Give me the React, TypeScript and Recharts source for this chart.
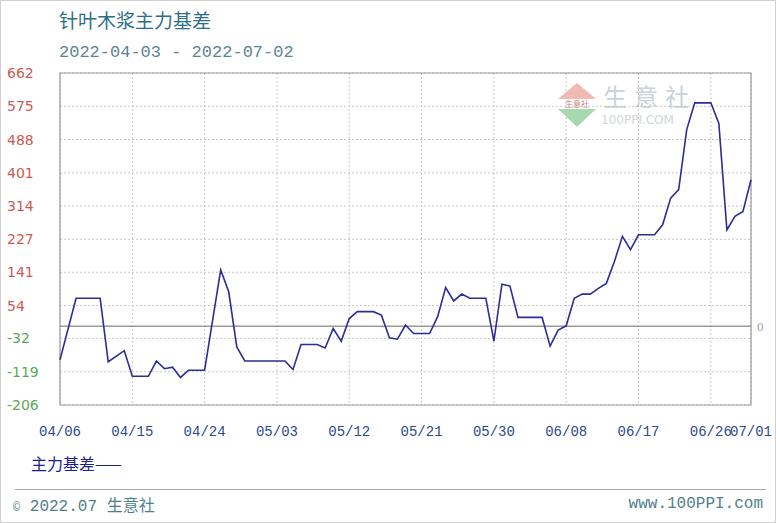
import { CartesianGrid, Line, LineChart, ReferenceArea, ReferenceLine, XAxis, YAxis } from "recharts";

// day offset from 04/06 and the main-contract basis
const days = [
  0, 2, 5, 6, 8, 9, 11, 12, 13, 14, 15, 16, 18, 20, 21, 22, 23, 28, 29, 30, 32, 33, 34, 35, 36, 37, 39, 40, 41,
  42, 43, 44, 46, 47, 48, 49, 50, 51, 53, 54, 55, 56, 57, 60, 61, 62, 63, 64, 65, 66, 67, 68, 69, 70, 71, 72, 74,
  75, 76, 77, 78, 79, 81, 82, 83, 84, 85, 86,
];
const basis = [
  -88, 73, 73, -93, -64, -131, -131, -91, -111, -107, -134, -115, -115, 147, 90, -54, -91, -91, -113, -48, -48, -57,
  -6, -39, 20, 38, 38, 29, -30, -34, 3, -19, -19, 25, 101, 66, 84, 73, 73, -39, 110, 105, 23, 23, -52, -10, 1, 73,
  84, 84, 99, 112, 169, 235, 200, 239, 239, 265, 335, 357, 514, 584, 584, 530, 252, 287, 300, 383,
];

const yTicks = [662, 575, 488, 401, 314, 227, 141, 54, -32, -119, -206];
const xTickDays = [0, 9, 18, 27, 36, 45, 54, 63, 72, 81, 86];
const xTickLabels = ["04/06", "04/15", "04/24", "05/03", "05/12", "05/21", "05/30", "06/08", "06/17", "06/26", "07/01"];

const data = days.map((d, i) => ({ day: d, value: basis[i] }));

const mono = "'Liberation Mono', 'DejaVu Sans Mono', monospace";
const cjk = "'Noto Sans CJK SC', sans-serif";

function YTick({ y, payload }: any) {
  const v = Number(payload.value);
  return (
    <text x={6} y={y} dy={5} fill={v < 0 ? "#5ca85c" : "#cc5a55"} fontSize={14} fontFamily="'DejaVu Sans', sans-serif">
      {v}
    </text>
  );
}

export default function App() {
  return (
    <div
      style={{
        position: "absolute",
        left: 0,
        top: 0,
        width: 776,
        height: 523,
        background: "#fff",
        boxSizing: "border-box",
        border: "1px solid #d0d0d0",
        overflow: "hidden",
      }}
    >
      <div style={{ position: "absolute", left: 58, top: 6, fontSize: 19, color: "#2c6f85", fontFamily: cjk, lineHeight: "26px" }}>
        针叶木浆主力基差
      </div>
      <div style={{ position: "absolute", left: 58, top: 41, fontSize: 17, color: "#5b8593", fontFamily: mono, lineHeight: "22px" }}>
        2022-04-03 - 2022-07-02
      </div>

      {/* watermark logo */}
      <div
        style={{
          position: "absolute",
          left: 557,
          top: 82,
          width: 0,
          height: 0,
          borderLeft: "19px solid transparent",
          borderRight: "19px solid transparent",
          borderBottom: "16px solid #f2b8b4",
        }}
      />
      <div
        style={{
          position: "absolute",
          left: 557,
          top: 108,
          width: 0,
          height: 0,
          borderLeft: "19px solid transparent",
          borderRight: "19px solid transparent",
          borderTop: "18px solid #a8d8b0",
        }}
      />
      <div style={{ position: "absolute", left: 557, top: 98, width: 38, height: 10, fontSize: 8, color: "#d08080", fontFamily: cjk, lineHeight: "10px", textAlign: "center" }}>
        生意社
      </div>
      <div style={{ position: "absolute", left: 602, top: 81, fontSize: 24, color: "#c9d3da", fontFamily: cjk, letterSpacing: 7, lineHeight: "28px" }}>
        生意社
      </div>
      <div style={{ position: "absolute", left: 600, top: 112, fontSize: 12, color: "#cfd6dc", fontFamily: "'DejaVu Sans', sans-serif", lineHeight: "14px" }}>
        100PPI.COM
      </div>

      <div style={{ position: "absolute", left: 0, top: 0 }}>
        <LineChart width={776} height={523} data={data} margin={{ top: 72, right: 26, bottom: 89, left: 0 }}>
          <CartesianGrid stroke="#c8c8c8" strokeDasharray="2 2" />
          <XAxis
            type="number"
            dataKey="day"
            domain={[0, 86]}
            ticks={xTickDays}
            interval={0}
            height={30}
            tickFormatter={(v) => xTickLabels[xTickDays.indexOf(Number(v))]}
            axisLine={false}
            tickLine={false}
            tickMargin={15}
            tick={{ fill: "#2b4a8c", fontSize: 14, fontFamily: mono }}
          />
          <YAxis
            type="number"
            domain={[-206, 662]}
            ticks={yTicks}
            interval={0}
            width={59}
            axisLine={false}
            tickLine={false}
            tick={<YTick />}
          />
          <ReferenceArea x1={0} x2={86} y1={-206} y2={662} fill="none" stroke="#9a9a9a" strokeWidth={1.2} />
          <ReferenceLine
            y={0}
            stroke="#9a9a9a"
            strokeWidth={1.5}
            label={{ value: "0", position: "right", fill: "#a0a0a0", fontSize: 13, offset: 6 }}
          />
          <Line type="linear" dataKey="value" stroke="#2d2d9a" strokeWidth={1.6} dot={false} isAnimationActive={false} />
        </LineChart>
      </div>

      <div style={{ position: "absolute", left: 30, top: 450, fontSize: 16, color: "#1e1e8c", fontFamily: cjk, lineHeight: "24px" }}>
        主力基差——
      </div>
      <div style={{ position: "absolute", left: 14, top: 488, width: 751, borderTop: "1px solid #a8a8a8" }} />
      <div style={{ position: "absolute", left: 12, top: 491, fontSize: 16, color: "#4f7f8c", fontFamily: mono, lineHeight: "24px" }}>
        <span style={{ fontSize: 12 }}>©</span> 2022.07 <span style={{ fontFamily: cjk }}>生意社</span>
      </div>
      <div style={{ position: "absolute", right: 12, top: 491, fontSize: 16, color: "#4f7f8c", fontFamily: mono, lineHeight: "24px" }}>
        www.100PPI.com
      </div>
    </div>
  );
}
